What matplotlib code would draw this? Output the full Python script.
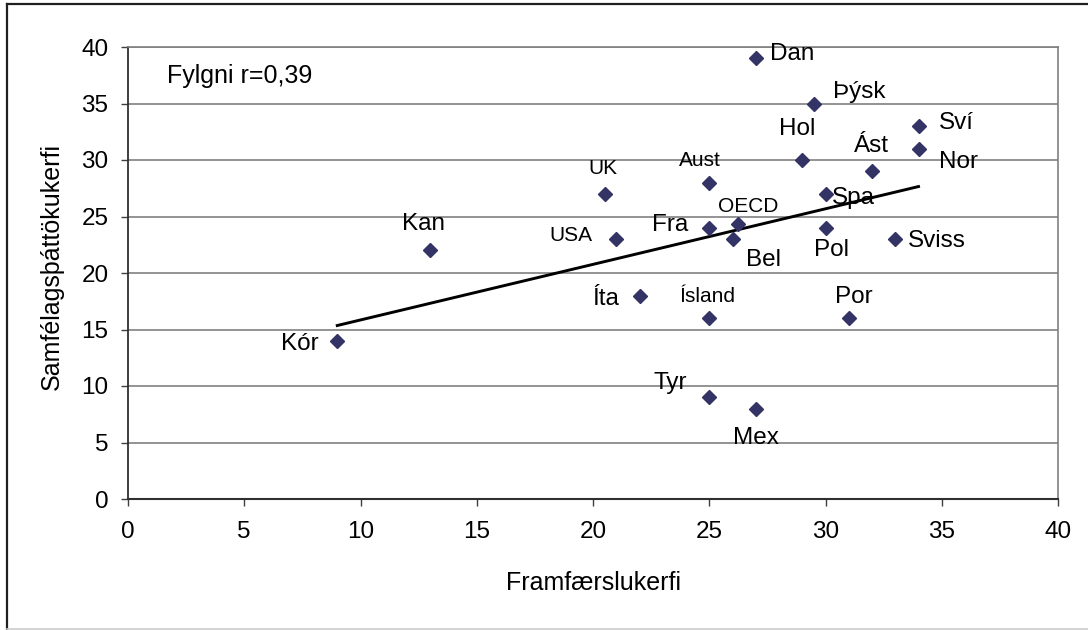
import matplotlib.pyplot as plt
import numpy as np
from matplotlib.lines import Line2D

plt.rcParams['font.family'] = ['Liberation Sans', 'DejaVu Sans']

# data
countries = ['Dan', 'Kan', 'UK', 'USA', 'Aust', 'Fra', 'Bel', 'Íta', 'Ísland', 'Þýsk', 'Hol',
             'Ást', 'Sví', 'Nor', 'Spa', 'Pol', 'Sviss', 'Por', 'Tyr', 'Mex', 'Kór']
framfaersla = [27, 13, 20.5, 21, 25, 25, 26, 22, 25, 29.5, 29, 32, 34, 34, 30, 30, 33, 31, 25, 27, 9]
samfelag = [39, 22, 27, 23, 28, 24, 23, 18, 16, 35, 30, 29, 33, 31, 27, 24, 23, 16, 9, 8, 14]
oecd_label = 'OECD'
oecd_x = 26.25
oecd_y = 24.3
ticks = [0, 5, 10, 15, 20, 25, 30, 35, 40]

# label placement: (dx pt, dy pt, ha, fontsize)
big = 17.5
small = 15
label_pos = {
    'Dan': (10.6, -1.2, 'left', big),
    'Kan': (-4.8, 14.9, 'center', big),
    'UK': (-0.9, 14.0, 'center', small),
    'USA': (-17.1, -1.4, 'right', small),
    'Aust': (-6.6, 12.2, 'center', small),
    'Fra': (-14.9, -2.4, 'right', big),
    'Bel': (9.6, -19.4, 'left', big),
    'Íta': (-14.4, -6.7, 'right', big),
    'Ísland': (-1.4, 11.5, 'center', small),
    'Þýsk': (13.9, 3.9, 'left', big),
    'Hol': (-3.6, 18.0, 'center', big),
    'Ást': (-0.4, 13.7, 'center', big),
    'Sví': (14.4, -1.9, 'left', big),
    'Nor': (14.9, -14.0, 'left', big),
    'Spa': (4.8, -7.6, 'left', big),
    'Pol': (4.4, -20.4, 'center', big),
    'Sviss': (9.1, -6.0, 'left', big),
    'Por': (3.5, 11.3, 'center', big),
    'Tyr': (-16.3, 6.0, 'right', big),
    'Mex': (0.2, -25.4, 'center', big),
    'Kór': (-13.7, -6.5, 'right', big),
    'OECD': (7.4, 8.9, 'center', small),
}

W, H = 1088, 630
fig = plt.figure(figsize=(W / 100, H / 100), dpi=100)
ax = fig.add_axes([128 / W, (H - 499) / H, 930 / W, 452 / H])

# trend line over the countries (OECD average left out)
k, b = np.polyfit(framfaersla, samfelag, 1)
xs = np.array([min(framfaersla), max(framfaersla)])
ax.plot(xs, k * xs + b, color='black', lw=2.1, zorder=3)

ax.plot(framfaersla + [oecd_x], samfelag + [oecd_y], 'D', color='#333366', ms=7,
        zorder=4, clip_on=False)

for name, x, y in zip(countries + [oecd_label], framfaersla + [oecd_x], samfelag + [oecd_y]):
    dx, dy, ha, fs = label_pos[name]
    ax.annotate(name, (x, y), xytext=(dx, dy), textcoords='offset points',
                ha=ha, va='baseline', fontsize=fs, color='black', zorder=5)

ax.text(0.0416, 0.9197, 'Fylgni r=0,39', transform=ax.transAxes, fontsize=18,
        va='baseline', ha='left')

ax.set_xlim(0, 40)
ax.set_ylim(0, 40)
ax.set_xticks(ticks)
ax.set_yticks(ticks)
ax.yaxis.grid(True, color='#808080', lw=1.2)
ax.set_axisbelow(True)
ax.tick_params(axis='both', direction='out', length=5, width=1, color='#404040',
               labelsize=17.5)
ax.tick_params(axis='x', pad=11)
ax.tick_params(axis='y', pad=9)
ax.spines['left'].set_color('#303030')
ax.spines['bottom'].set_color('#303030')
ax.spines['left'].set_linewidth(1.3)
ax.spines['bottom'].set_linewidth(1.5)
ax.spines['right'].set_color('#808080')
ax.spines['top'].set_color('#808080')
ax.spines['right'].set_linewidth(1.2)
ax.spines['top'].set_linewidth(1.2)

ax.set_xlabel('Framfærslukerfi', fontsize=18, va='baseline')
ax.xaxis.set_label_coords(0.5, (499 - 590) / 452)
ax.set_ylabel('Samfélagsþáttökukerfi', fontsize=18, va='center')
ax.yaxis.set_label_coords((51.7 - 128) / 930, 0.514)

# outer chart border
fig.add_artist(Line2D([7 / W, 7 / W], [0, 1 - 4 / H], transform=fig.transFigure,
                      color='#202020', lw=1.6))
fig.add_artist(Line2D([7 / W, 1], [1 - 4 / H, 1 - 4 / H], transform=fig.transFigure,
                      color='#202020', lw=1.6))
fig.add_artist(Line2D([7 / W, 1], [1 / H, 1 / H], transform=fig.transFigure,
                      color='#cccccc', lw=1.2))

fig.savefig('out.png', dpi=100)
